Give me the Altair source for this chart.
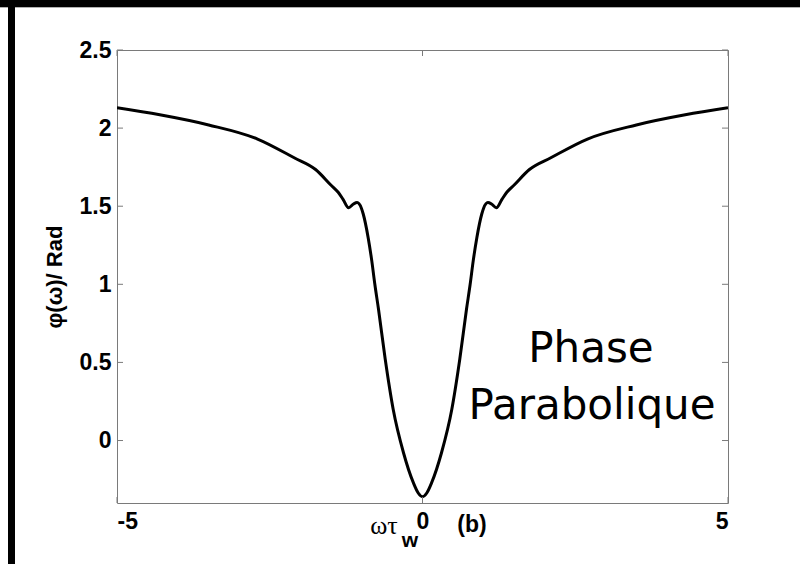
import altair as alt
import pandas as pd

# Phase profile phi(omega) in radians versus normalised frequency omega*tau_w
omega = [-5.0, -4.3, -3.5, -2.7, -2.1, -1.75, -1.5, -1.38, -1.3, -1.21, -1.13, -1.07,
         -1.0, -0.97, -0.89, -0.83, -0.78, -0.72, -0.61, -0.48, -0.31, -0.15, -0.07, 0.0,
         0.07, 0.15, 0.31, 0.48, 0.61, 0.72, 0.78, 0.83, 0.89, 0.97, 1.0,
         1.07, 1.13, 1.21, 1.3, 1.38, 1.5, 1.75, 2.1, 2.7, 3.5, 4.3, 5.0]
phase = [2.13, 2.085, 2.02, 1.93, 1.81, 1.735, 1.636, 1.589, 1.544, 1.49, 1.514, 1.523,
         1.487, 1.45, 1.30, 1.15, 1.0, 0.84, 0.52, 0.2, -0.08, -0.27, -0.336, -0.36,
         -0.336, -0.27, -0.08, 0.2, 0.52, 0.84, 1.0, 1.15, 1.30, 1.45, 1.487,
         1.523, 1.514, 1.49, 1.544, 1.589, 1.636, 1.735, 1.81, 1.93, 2.02, 2.085, 2.13]

x_ticks = [-5, 0, 5]
y_ticks = [0, 0.5, 1, 1.5, 2, 2.5]

W, H = 611, 453
PAD = {"left": 117, "top": 50, "right": 72, "bottom": 61}
GRAY = "#7a7a7a"
FONT = "Liberation Sans"

xs = alt.Scale(domain=[-5, 5], nice=False, zero=False)
ys = alt.Scale(domain=[-0.4, 2.5], nice=False, zero=False)
x_axis = alt.Axis(
    values=x_ticks, title=None, domain=False, ticks=False, grid=False,
    labelExpr="'' + datum.value", labelFont=FONT, labelFontWeight="bold",
    labelFontSize=23, labelColor="black", labelPadding=7)
y_axis = alt.Axis(
    values=y_ticks, title="φ(ω)/ Rad", domain=False, ticks=False, grid=False,
    labelExpr="'' + datum.value", labelFont=FONT, labelFontWeight="bold",
    labelFontSize=23, labelColor="black", labelPadding=6,
    titleFont=FONT, titleFontWeight="bold", titleFontSize=22, titleColor="black",
    titleX=-63, titleY=H / 2, titleAngle=-90, titleAlign="center",
    titleBaseline="middle")
one = pd.DataFrame({"a": [0]})

curve = alt.Chart(pd.DataFrame({"w": omega, "phi": phase})).mark_line(
    color="black", strokeWidth=3, interpolate="monotone", clip=True
).encode(
    x=alt.X("w:Q", scale=xs, axis=x_axis),
    y=alt.Y("phi:Q", scale=ys, axis=y_axis),
)

# inward tick marks on all four sides of the frame
yt = pd.DataFrame({"phi": y_ticks})
xt = pd.DataFrame({"w": x_ticks})
tick_left = alt.Chart(yt).mark_rule(color=GRAY).encode(
    y=alt.Y("phi:Q", scale=ys, axis=y_axis), x=alt.value(0), x2=alt.value(6))
tick_right = alt.Chart(yt).mark_rule(color=GRAY).encode(
    y=alt.Y("phi:Q", scale=ys, axis=y_axis), x=alt.value(W - 6), x2=alt.value(W))
tick_bottom = alt.Chart(xt).mark_rule(color=GRAY).encode(
    x=alt.X("w:Q", scale=xs, axis=x_axis), y=alt.value(H - 6), y2=alt.value(H))
tick_top = alt.Chart(xt).mark_rule(color=GRAY).encode(
    x=alt.X("w:Q", scale=xs, axis=x_axis), y=alt.value(0), y2=alt.value(6))

# heavy black page border (top strip and left strip)
bar_top = alt.Chart(one).mark_rect(color="black").encode(
    x=alt.value(-PAD["left"]), x2=alt.value(W + PAD["right"]),
    y=alt.value(-PAD["top"]), y2=alt.value(-PAD["top"] + 7))
line_top = alt.Chart(one).mark_rule(color="#b0b0b0").encode(
    x=alt.value(-PAD["left"]), x2=alt.value(W + PAD["right"]),
    y=alt.value(-PAD["top"] + 7.5))
bar_left = alt.Chart(one).mark_rect(color="black").encode(
    x=alt.value(-PAD["left"] + 8), x2=alt.value(-PAD["left"] + 15),
    y=alt.value(-PAD["top"]), y2=alt.value(H + PAD["bottom"]))

# x-axis label: omega tau_w  ... (b)
lab_wt = alt.Chart(one).mark_text(
    text="ωτ", font="Liberation Serif", fontSize=26, align="center",
    baseline="alphabetic", color="black"
).encode(x=alt.value(384 - PAD["left"]), y=alt.value(534 - PAD["top"]))
lab_sub = alt.Chart(one).mark_text(
    text="w", font=FONT, fontWeight="bold", fontSize=21, align="center",
    baseline="alphabetic", color="black"
).encode(x=alt.value(410 - PAD["left"]), y=alt.value(547 - PAD["top"]))
lab_b = alt.Chart(one).mark_text(
    text="(b)", font=FONT, fontWeight="bold", fontSize=23, align="center",
    baseline="alphabetic", color="black"
).encode(x=alt.value(472 - PAD["left"]), y=alt.value(532 - PAD["top"]))

# annotation inside the plot
note1 = alt.Chart(one).mark_text(
    text="Phase", font="DejaVu Sans", fontSize=42, align="center",
    baseline="alphabetic", color="black"
).encode(x=alt.value(591 - PAD["left"]), y=alt.value(362 - PAD["top"]))
note2 = alt.Chart(one).mark_text(
    text="Parabolique", font="DejaVu Sans", fontSize=42, align="center",
    baseline="alphabetic", color="black"
).encode(x=alt.value(592 - PAD["left"]), y=alt.value(419 - PAD["top"]))

chart = alt.layer(
    curve, tick_left, tick_right, tick_bottom, tick_top,
    bar_top, line_top, bar_left, lab_wt, lab_sub, lab_b, note1, note2
).properties(
    width=W, height=H, padding=PAD, autosize=alt.AutoSizeParams(type="none"),
    background="white"
).configure_view(stroke=GRAY, strokeWidth=1)

chart.save("out.html", embed_options={"renderer": "svg", "actions": False})
